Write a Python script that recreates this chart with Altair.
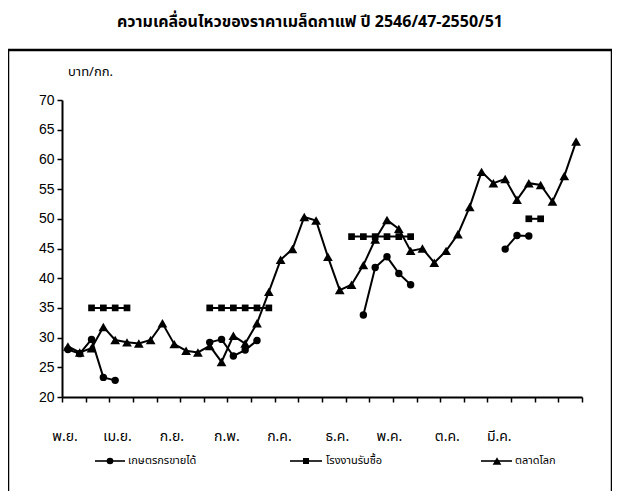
import altair as alt
import pandas as pd

N = 44
months_idx = list(range(N))

world = [28.5, 27.5, 28.2, 31.8, 29.6, 29.2, 29.0, 29.6, 32.4, 28.9,
         27.8, 27.5, 28.6, 25.9, 30.3, 29.0, 32.4, 37.7, 43.1, 44.9,
         50.3, 49.7, 43.6, 38.0, 38.9, 42.2, 46.5, 49.8, 48.3, 44.6,
         45.0, 42.6, 44.6, 47.4, 52.0, 57.9, 56.0, 56.7, 53.2, 56.0,
         55.7, 52.9, 57.2, 63.0]

farmer = [28.0, 27.3, 29.7, 23.3, 22.8, None, None, None, None, None,
          None, None, 29.2, 29.7, 26.9, 27.9, 29.5, None, None, None,
          None, None, None, None, None, 33.8, 41.8, 43.6, 40.8, 38.9,
          None, None, None, None, None, None, None, 44.9, 47.2, 47.1,
          None, None, None, None]

factory = [None, None, 35.0, 35.0, 35.0, 35.0, None, None, None, None,
           None, None, 35.0, 35.0, 35.0, 35.0, 35.0, 35.0, None, None,
           None, None, None, None, 47.0, 47.0, 47.0, 47.0, 47.0, 47.0,
           None, None, None, None, None, None, None, None, None, 50.0,
           50.0, None, None, None]

series_names = ["เกษตรกรขายได้", "โรงงานรับซื้อ", "ตลาดโลก"]
series_vals = [farmer, factory, world]
series_shapes = ["circle", "square", "triangle-up"]

month_labels = ["พ.ย.", "เม.ย.", "ก.ย.", "ก.พ.", "ก.ค.", "ธ.ค.", "พ.ค.", "ต.ค.", "มี.ค."]
month_label_pos = [-0.25, 4.2, 8.8, 13.45, 17.9, 22.8, 27.2, 32.1, 36.5]

y_ticks = list(range(20, 71, 5))
x_ticks = [-0.5 + 2 * k for k in range(23)]

title_text = "ความเคลื่อนไหวของราคาเมล็ดกาแฟ ปี 2546/47-2550/51"
unit_text = "บาท/กก."

rows = []
for name, vals in zip(series_names, series_vals):
    seg = 0
    prev = None
    for i, v in zip(months_idx, vals):
        if v is None:
            prev = None
            continue
        if prev is None:
            seg += 1
        rows.append({"series": name, "idx": i, "v": v, "seg": f"{name}-{seg}"})
        prev = v
df = pd.DataFrame(rows)

W, H = 520, 297
THAI = "Noto Sans Thai, Loma, Garuda, Tahoma, sans-serif"

xscale = alt.Scale(domain=[-0.5, N - 0.5], nice=False, zero=False)
yscale = alt.Scale(domain=[20, 70], nice=False, zero=False)

xaxis = alt.Axis(values=x_ticks, labels=False, title=None, grid=False, ticks=True,
                 tickSize=5, tickColor="black", domainColor="black", domainWidth=2,
                 tickWidth=1.5)
yaxis = alt.Axis(values=y_ticks, title=None, grid=False, tickSize=5, tickColor="black",
                 domainColor="black", domainWidth=2, tickWidth=1.5,
                 labelFont="Liberation Sans", labelFontSize=14, labelColor="black",
                 labelPadding=3)

one = pd.DataFrame({"a": [0]})

frame = alt.Chart(one).mark_rect(fillOpacity=0, stroke="black", strokeWidth=2.5).encode(
    x=alt.value(-54), x2=alt.value(550), y=alt.value(-50), y2=alt.value(394))

topline = alt.Chart(one).mark_rule(color="black", strokeWidth=2, strokeDash=[40, 6]).encode(
    x=alt.value(-62), x2=alt.value(558), y=alt.value(-98))

lines = alt.Chart(df).mark_line(color="black", strokeWidth=2).encode(
    x=alt.X("idx:Q", scale=xscale, axis=xaxis),
    y=alt.Y("v:Q", scale=yscale, axis=yaxis),
    detail="seg:N")

pts = []
sizes = {"circle": 55, "square": 45, "triangle-up": 95}
for name, shp in zip(series_names, series_shapes):
    pts.append(alt.Chart(df).transform_filter(alt.datum.series == name).mark_point(
        shape=shp, filled=True, color="black", opacity=1, size=sizes[shp]).encode(
        x=alt.X("idx:Q", scale=xscale, axis=xaxis),
        y=alt.Y("v:Q", scale=yscale, axis=yaxis)))

lab_df = pd.DataFrame({"lab": month_labels, "pos": month_label_pos})
month_text = alt.Chart(lab_df).mark_text(font=THAI, fontSize=14, color="black").encode(
    x=alt.X("pos:Q", scale=xscale, axis=xaxis), y=alt.value(H + 40), text="lab:N")

title = alt.Chart(pd.DataFrame({"t": [title_text]})).mark_text(
    font=THAI, fontSize=16, fontWeight="bold", color="black").encode(
    x=alt.value(248), y=alt.value(-78), text="t:N")

unit = alt.Chart(pd.DataFrame({"t": [unit_text]})).mark_text(
    font=THAI, fontSize=13, color="black", align="left").encode(
    x=alt.value(6), y=alt.value(-28), text="t:N")

# legend
leg_y = H + 64
leg_layers = []
leg_geo = [(33, 63, 48, 66), (228, 260, 244, 264), (419, 450, 435, 453)]
for name, shp, (a, b, m, t) in zip(series_names, series_shapes, leg_geo):
    leg_layers.append(alt.Chart(one).mark_rule(color="black", strokeWidth=1.6).encode(
        x=alt.value(a), x2=alt.value(b), y=alt.value(leg_y)))
    leg_layers.append(alt.Chart(one).mark_point(shape=shp, filled=True, color="black",
                                                opacity=1, size=sizes[shp] * 0.8).encode(
        x=alt.value(m), y=alt.value(leg_y)))
    leg_layers.append(alt.Chart(pd.DataFrame({"t": [name]})).mark_text(
        font=THAI, fontSize=11, color="black", align="left").encode(
        x=alt.value(t), y=alt.value(leg_y), text="t:N"))

chart = alt.layer(frame, topline, lines, *pts, month_text, title, unit, *leg_layers).properties(
    width=W, height=H,
    autosize=alt.AutoSizeParams(type="none"),
    padding={"left": 54, "top": 92, "right": 30, "bottom": 94},
).configure_view(stroke=None).resolve_scale(x="shared", y="shared")

chart.save("out.html", embed_options={"renderer": "svg", "actions": False})
